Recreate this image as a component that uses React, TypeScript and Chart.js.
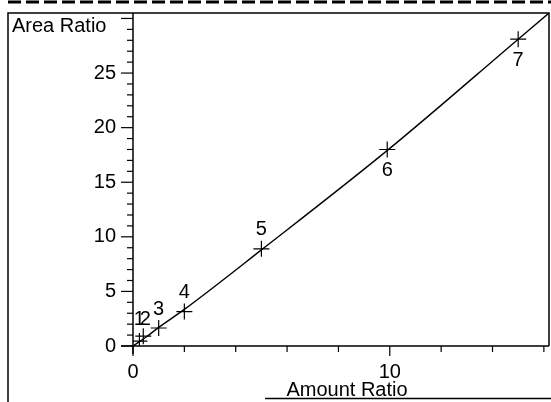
import React, { useEffect, useRef } from "react";
import { Chart, registerables } from "chart.js";

Chart.register(...registerables);

const pointNames = ["1", "2", "3", "4", "5", "6", "7"];
const amountRatio = [0.25, 0.4, 1, 2, 5, 9.9, 15];
const areaRatio = [0.45, 0.9, 1.65, 3.15, 8.9, 18.0, 28.1];
const labelBelow = [false, false, false, false, false, true, true];

const curveX = [0, 0.5, 1, 2, 5, 10, 15, 16.2];
const curveY = [0, 0.8, 1.7, 3.35, 8.8, 18.1, 28.1, 30.5];

const xTickLabels = [0, 10];
const yTickLabels = [0, 5, 10, 15, 20, 25];
const xTickValues = [0, 2, 4, 6, 8, 10, 12, 14, 16];
const yTickValues = Array.from({ length: 31 }, (_, i) => i);

const FONT = "'Liberation Sans', Arial, sans-serif";

const decorPlugin = {
  id: "decor",
  afterDraw(chart: any) {
    const ctx = chart.ctx;
    const xs = chart.scales.x;
    const ys = chart.scales.y;
    const area = chart.chartArea;
    ctx.save();
    ctx.strokeStyle = "#000";
    ctx.fillStyle = "#000";

    // top dashed strip
    ctx.lineWidth = 3;
    ctx.setLineDash([13, 5]);
    ctx.beginPath();
    ctx.moveTo(8, 2);
    ctx.lineTo(551, 2);
    ctx.stroke();
    ctx.setLineDash([]);

    // outer frame
    ctx.lineWidth = 1.5;
    ctx.beginPath();
    ctx.moveTo(8, 402);
    ctx.lineTo(8, 13);
    ctx.lineTo(area.right, 13);
    ctx.lineTo(area.right, area.bottom);
    ctx.stroke();
    ctx.beginPath();
    ctx.moveTo(265, 398.5);
    ctx.lineTo(551, 398.5);
    ctx.stroke();

    // axes
    ctx.beginPath();
    ctx.moveTo(area.left, area.top);
    ctx.lineTo(area.left, area.bottom + 8);
    ctx.moveTo(area.left - 12, area.bottom);
    ctx.lineTo(area.right, area.bottom);
    ctx.stroke();

    // x ticks
    ctx.lineWidth = 1.2;
    xTickValues.forEach((v) => {
      const px = xs.getPixelForValue(v);
      const len = v % 10 === 0 ? 10 : 6;
      ctx.beginPath();
      ctx.moveTo(px, area.bottom);
      ctx.lineTo(px, area.bottom + len);
      ctx.stroke();
    });
    // y ticks
    yTickValues.forEach((v) => {
      const py = ys.getPixelForValue(v);
      const len = v % 5 === 0 ? 12 : 6;
      ctx.beginPath();
      ctx.moveTo(area.left - len, py);
      ctx.lineTo(area.left, py);
      ctx.stroke();
    });

    // axis titles
    ctx.font = `20px ${FONT}`;
    ctx.textAlign = "left";
    ctx.textBaseline = "alphabetic";
    ctx.fillText("Area Ratio", 12, 32);
    ctx.textAlign = "center";
    ctx.fillText("Amount Ratio", (area.left + area.right) / 2 + 6, 396);

    // point labels
    ctx.textBaseline = "middle";
    pointNames.forEach((name, i) => {
      const px = xs.getPixelForValue(amountRatio[i]);
      const py = ys.getPixelForValue(areaRatio[i]);
      const dy = labelBelow[i] ? 21 : i === 0 ? -22 : i === 1 ? -17 : -19;
      const dx = i === 1 ? 2 : 0;
      ctx.fillText(name, px + dx, py + dy);
    });
    ctx.restore();
  },
};

export default function App() {
  const ref = useRef<HTMLCanvasElement>(null);
  useEffect(() => {
    if (!ref.current) return;
    Chart.defaults.font.family = FONT;
    Chart.defaults.color = "#000";
    const chart = new Chart(ref.current, {
      type: "scatter",
      data: {
        datasets: [
          {
            label: "fit",
            data: curveX.map((x, i) => ({ x, y: curveY[i] })),
            showLine: true,
            borderColor: "#000",
            borderWidth: 1.4,
            pointRadius: 0,
            cubicInterpolationMode: "monotone",
          },
          {
            label: "points",
            data: amountRatio.map((x, i) => ({ x, y: areaRatio[i] })),
            pointStyle: "cross",
            pointRadius: 8,
            borderColor: "#000",
            backgroundColor: "#000",
            borderWidth: 1.2,
          },
        ],
      },
      options: {
        animation: false,
        responsive: false,
        devicePixelRatio: 1,
        layout: { autoPadding: false, padding: { left: 0, top: 13, right: 2, bottom: 0 } },
        plugins: { legend: { display: false }, tooltip: { enabled: false } },
        scales: {
          x: {
            type: "linear",
            min: 0,
            max: 16.2,
            grid: { display: true, drawOnChartArea: false, drawTicks: false },
            border: { display: false },
            ticks: {
              stepSize: 10,
              includeBounds: false,
              padding: 14,
              font: { size: 20 },
              color: "#000",
              maxRotation: 0,
              callback: (v: any) => (xTickLabels.includes(Number(v)) ? String(v) : ""),
            },
            afterFit: (s: any) => {
              s.height = 56;
              s.paddingLeft = 0;
              s.paddingRight = 0;
            },
          },
          y: {
            type: "linear",
            min: 0,
            max: 30.5,
            grid: { display: true, drawOnChartArea: false, drawTicks: false },
            border: { display: false },
            ticks: {
              stepSize: 5,
              includeBounds: false,
              padding: 17,
              font: { size: 20 },
              color: "#000",
              callback: (v: any) => (yTickLabels.includes(Number(v)) ? String(v) : ""),
            },
            afterFit: (s: any) => {
              s.width = 133;
              s.paddingTop = 0;
              s.paddingBottom = 0;
            },
          },
        },
      },
      plugins: [decorPlugin],
    } as any);
    return () => chart.destroy();
  }, []);
  return (
    <div style={{ position: "absolute", left: 0, top: 0, width: 551, height: 402, background: "#fff" }}>
      <canvas ref={ref} width={551} height={402} style={{ display: "block" }} />
    </div>
  );
}
